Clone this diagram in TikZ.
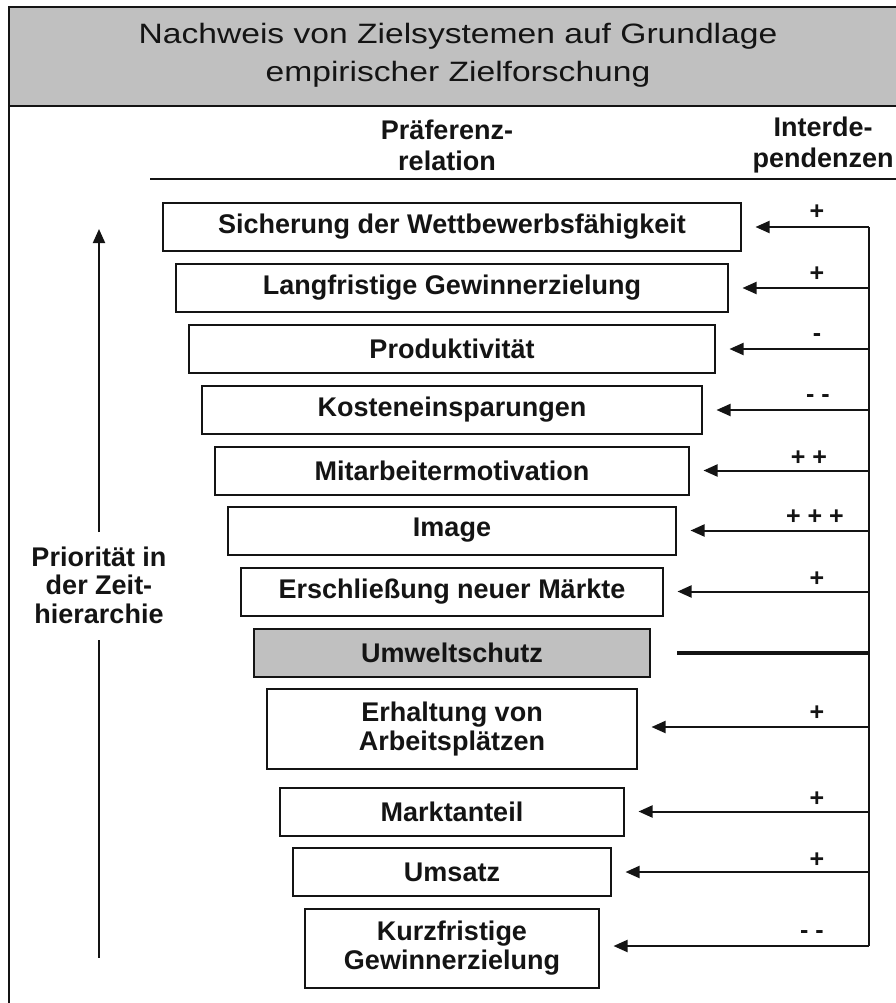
\documentclass[tikz,border=0pt]{standalone}
\usepackage{fontspec}
\setmainfont{Liberation Sans}
\newfontfamily\titlefont[FakeStretch=1.2]{Liberation Sans}
\usetikzlibrary{arrows.meta}
\definecolor{titlegray}{RGB}{192,192,192}
\definecolor{inkc}{RGB}{20,20,20}
\begin{document}
\begin{tikzpicture}[x=1pt,y=-1pt,
  line/.style={draw=inkc, line width=2pt},
  goal/.style={draw=inkc, line width=2pt, align=center, inner sep=0pt, minimum height=48pt,
    font=\bfseries\fontsize{27}{29}\selectfont, text=inkc},
  arr/.style={line, -{Triangle[length=14pt,width=12pt]}, shorten >=13.5pt},
  sign/.style={font=\bfseries\fontsize{25}{25}\selectfont, text=inkc, inner sep=0pt},
  head/.style={font=\bfseries\fontsize{27}{31}\selectfont, align=center, text=inkc, inner sep=0pt}]
\useasboundingbox (0,0) rectangle (895,1003);
% frame and title
\fill[titlegray] (9,7) rectangle (905,106);
\draw[line] (9,1010) -- (9,7) -- (905,7);
\draw[line] (9,106) -- (905,106);
\node[font=\titlefont\fontsize{28}{38}\selectfont, align=center, text=inkc] (title) at (458,55)
  {Nachweis von Zielsystemen auf Grundlage\\empirischer Zielforschung};
% headers
\node[head] (hpref) at (447,145) {Präferenz-\\relation};
\node[head] (hint) at (823,145) {Interde-\\pendenzen};
\coordinate (hl1) at (150,179);
\coordinate (hl2) at (905,179);
\draw[line] (hl1) -- (hl2);
% goal boxes
\node[goal, minimum width=578pt] (b1) at (452,227) {Sicherung der Wettbewerbsfähigkeit};
\node[goal, minimum width=552pt] (b2) at (452,288) {Langfristige Gewinnerzielung};
\node[goal, minimum width=526pt] (b3) at (452,349) {Produktivität};
\node[goal, minimum width=500pt] (b4) at (452,410) {Kosteneinsparungen};
\node[goal, minimum width=474pt] (b5) at (452,470.5) {Mitarbeitermotivation};
\node[goal, minimum width=448pt] (b6) at (452,530.5) {Image};
\node[goal, minimum width=422pt] (b7) at (452,591.5) {Erschließung neuer Märkte};
\node[goal, minimum width=396pt, fill=titlegray] (b8) at (452,652.5) {Umweltschutz};
\node[goal, minimum width=370pt, minimum height=80pt] (b9) at (452,729) {Erhaltung von\\Arbeitsplätzen};
\node[goal, minimum width=344pt] (b10) at (452,811.5) {Marktanteil};
\node[goal, minimum width=318pt] (b11) at (452,872) {Umsatz};
\node[goal, minimum width=294pt, minimum height=79pt] (b12) at (452,948.5) {Kurzfristige\\Gewinnerzielung};
% right interdependency bus
\coordinate (vtop) at (869,227);
\coordinate (vbot) at (869,946);
\draw[line] (vtop) -- (vbot);
\foreach \i/\y in {1/227,2/288,3/349,4/410,5/470.5,6/530.5,7/591.5,9/727,10/811.5,11/872,12/946}{
  \coordinate (r\i) at (869,\y);
  \draw[arr] (r\i) -- (b\i.east |- r\i);
}
\coordinate (r8) at (869,653);
\coordinate (t8) at (677,653);
\draw[draw=inkc, line width=4.5pt] (r8) -- (t8);
% signs
\node[sign] (s1) at (817,212) {+};
\node[sign] (s2) at (817,274) {+};
\node[sign] (s3) at (817,338) {-};
\node[sign] (s4) at (818,399) {- -};
\node[sign] (s5) at (809,458) {+ +};
\node[sign] (s6) at (815,517) {+ + +};
\node[sign] (s7) at (817,579) {+};
\node[sign] (s9) at (817,713) {+};
\node[sign] (s10) at (817,799) {+};
\node[sign] (s11) at (817,860) {+};
\node[sign] (s12) at (812,935) {- -};
% priority axis
\node[head, font=\bfseries\fontsize{27}{28.5}\selectfont] (prio) at (99,585) {Priorität in\\der Zeit-\\hierarchie};
\coordinate (ptop) at (99,229);
\coordinate (pmid) at (99,532);
\coordinate (plow1) at (99,640);
\coordinate (plow2) at (99,958);
\draw[line, -{Triangle[length=14pt,width=12pt]}] (pmid) -- (ptop);
\draw[line] (plow1) -- (plow2);
\end{tikzpicture}
\end{document}
